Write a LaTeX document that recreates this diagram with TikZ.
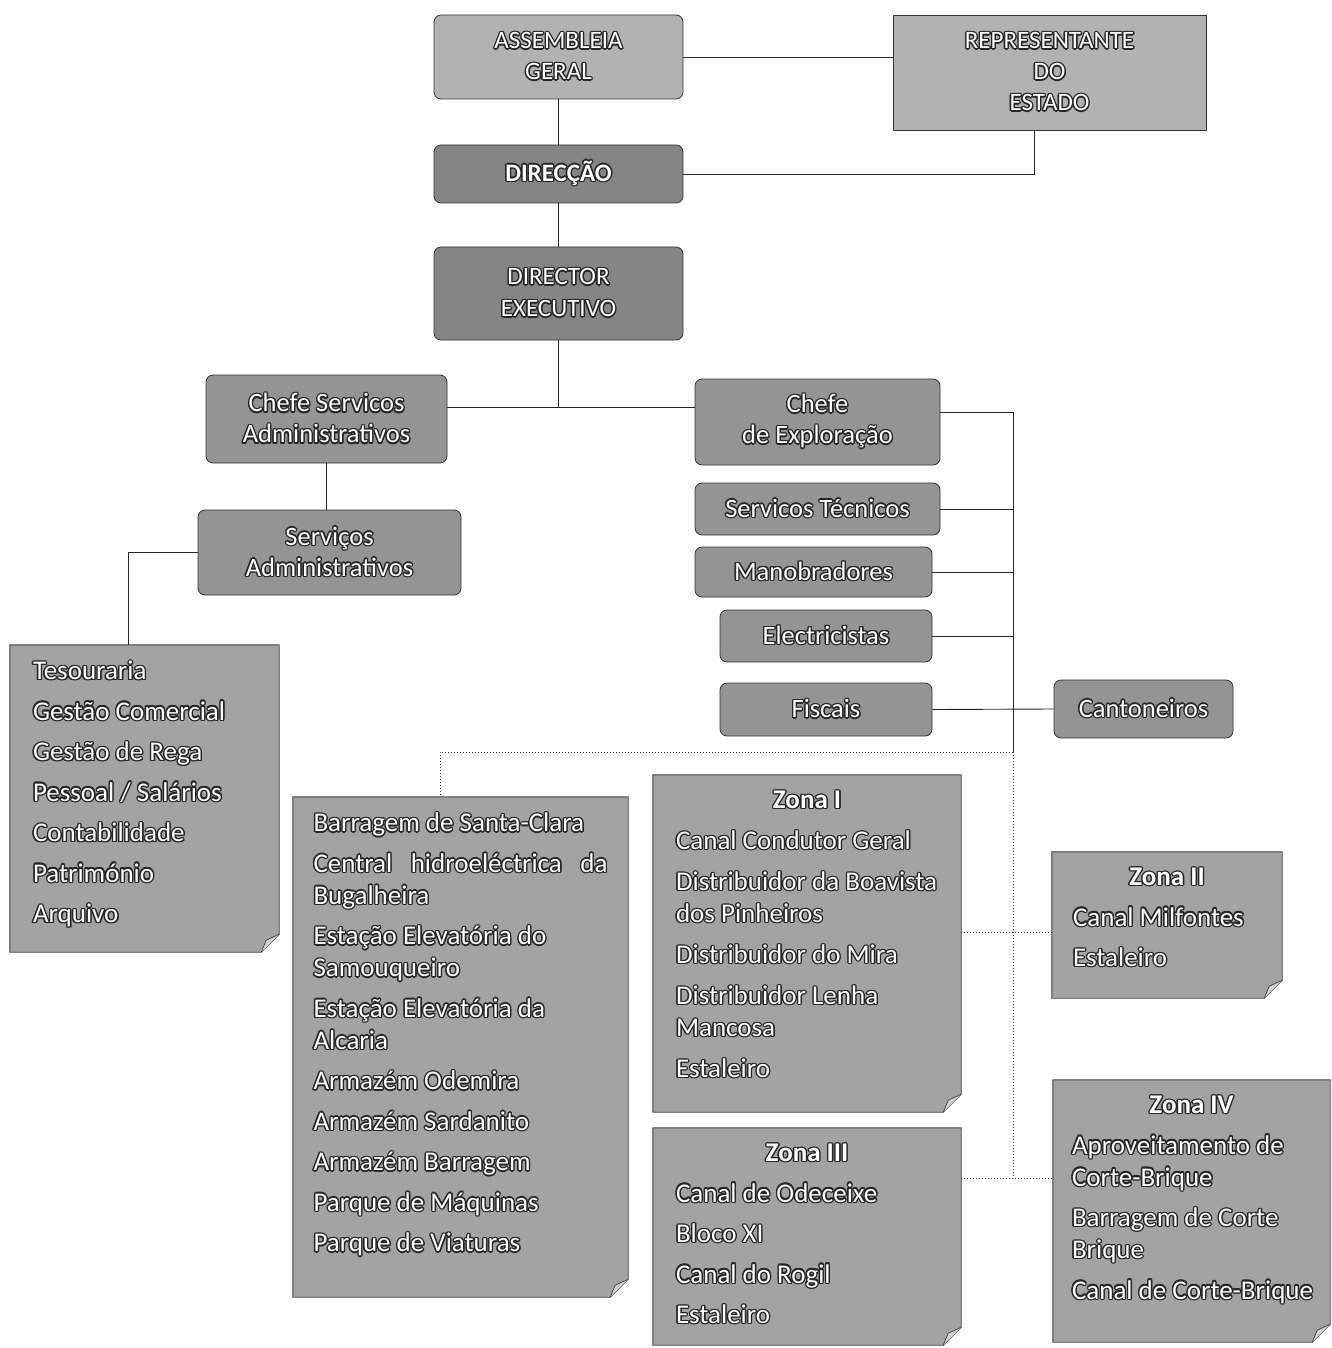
\documentclass[tikz,border=0pt]{standalone}
\usepackage{fontspec}
\setmainfont{Carlito}
\usepackage{contour}
\contourlength{1.4pt}
\contournumber{10}
\usetikzlibrary{backgrounds}
\newcommand\ct[1]{\contour{black!85}{#1}}
\newcommand\gap{\\[8.5pt]}
\begin{document}
\begin{tikzpicture}[x=1pt,y=-1pt,
  box/.style={draw=black!80, line width=0.8pt, rounded corners=7pt, fill=black!42,
    text=white, align=center, font=\fontsize{26.5}{31}\selectfont, inner sep=0pt},
  lightbox/.style={box, fill=black!30, font=\fontsize{25}{31}\selectfont},
  darkbox/.style={box, fill=black!48, font=\fontsize{25}{32}\selectfont},
  note/.style={inner sep=0pt, text=white, font=\fontsize{27}{32}\selectfont},
  conn/.style={draw=black!85, line width=0.9pt},
  dotconn/.style={draw=black!80, line width=1pt, dotted}]
\useasboundingbox (0,0) rectangle (1331,1348);

% top boxes
\node[lightbox, minimum width=249pt, minimum height=84pt] (ag) at (558.5,57) {\ct{ASSEMBLEIA}\\\ct{GERAL}};
\node[lightbox, rounded corners=0pt, minimum width=313pt, minimum height=115pt] (rep) at (1049.5,72.5) {\ct{REPRESENTANTE}\\\ct{DO}\\\ct{ESTADO}};
\node[darkbox, minimum width=249pt, minimum height=58pt] (dir) at (558.5,174) {\ct{\bfseries DIRECÇÃO}};
\node[darkbox, minimum width=249pt, minimum height=93pt] (de) at (558.5,293.5) {\ct{DIRECTOR}\\\ct{EXECUTIVO}};

% second level
\node[box, minimum width=241pt, minimum height=88pt] (csa) at (326.5,419) {\ct{Chefe Servicos}\\\ct{Administrativos}};
\node[box, minimum width=245pt, minimum height=86pt] (ce) at (817.5,422) {\ct{Chefe}\\\ct{de Exploração}};
\node[box, minimum width=263pt, minimum height=85pt] (sa) at (329.5,552.5) {\ct{Serviços}\\\ct{Administrativos}};

\node[box, minimum width=245pt, minimum height=52pt] (st) at (817.5,509) {\ct{Servicos Técnicos}};
\node[box, minimum width=237pt, minimum height=50pt] (man) at (813.5,572) {\ct{Manobradores}};
\node[box, minimum width=212pt, minimum height=52pt] (ele) at (826,636) {\ct{Electricistas}};
\node[box, minimum width=212pt, minimum height=53pt] (fis) at (826,709.5) {\ct{Fiscais}};
\node[box, minimum width=179pt, minimum height=58pt] (can) at (1143.5,709) {\ct{Cantoneiros}};

% lists
\node[note, minimum width=269pt, minimum height=307pt] (l1) at (144.5,798.5)
 {\parbox[c][307pt][t]{223pt}{\vspace*{16pt}\ct{Tesouraria}\gap
  \ct{Gestão Comercial}\gap \ct{Gestão de Rega}\gap \ct{Pessoal / Salários}\gap
  \ct{Contabilidade}\gap \ct{Património}\gap \ct{Arquivo}}};

\node[note, minimum width=335pt, minimum height=500pt] (l2) at (460.5,1047)
 {\parbox[c][500pt][t]{294pt}{\vspace*{16pt}\ct{Barragem de Santa-Clara}\gap
  \hbox to \linewidth{\ct{Central}\hfill\ct{hidroeléctrica}\hfill\ct{da}}\\
  \ct{Bugalheira}\gap
  \ct{Estação Elevatória do}\\ \ct{Samouqueiro}\gap
  \ct{Estação Elevatória da}\\ \ct{Alcaria}\gap
  \ct{Armazém Odemira}\gap \ct{Armazém Sardanito}\gap \ct{Armazém Barragem}\gap
  \ct{Parque de Máquinas}\gap \ct{Parque de Viaturas}}};

\node[note, minimum width=308pt, minimum height=337pt] (z1) at (807,943.5)
 {\parbox[c][337pt][t]{262pt}{\vspace*{16pt}\makebox[\linewidth]{\ct{\bfseries Zona I}}\\[9pt]
  \ct{Canal Condutor Geral}\\[9pt]
  \ct{Distribuidor da Boavista}\\ \ct{dos Pinheiros}\\[9pt]
  \ct{Distribuidor do Mira}\\[9pt]
  \ct{Distribuidor Lenha}\\ \ct{Mancosa}\\[9pt]
  \ct{Estaleiro}}};

\node[note, minimum width=230pt, minimum height=146pt] (z2) at (1167,925)
 {\parbox[c][146pt][t]{188pt}{\vspace*{16pt}\makebox[\linewidth]{\ct{\bfseries Zona II}}\gap
  \ct{Canal Milfontes}\gap \ct{Estaleiro}}};

\node[note, minimum width=308pt, minimum height=217pt] (z3) at (807,1236.5)
 {\parbox[c][217pt][t]{262pt}{\vspace*{16pt}\makebox[\linewidth]{\ct{\bfseries Zona III}}\gap
  \ct{Canal de Odeceixe}\gap \ct{Bloco XI}\gap \ct{Canal do Rogil}\gap \ct{Estaleiro}}};

\node[note, minimum width=277pt, minimum height=262pt] (z4) at (1191.5,1211)
 {\parbox[c][262pt][t]{239pt}{\vspace*{16pt}\makebox[\linewidth]{\ct{\bfseries Zona IV}}\gap
  \ct{Aproveitamento de}\\ \ct{Corte-Brique}\gap
  \ct{Barragem de Corte}\\ \ct{Brique}\gap
  \ct{Canal de Corte-Brique}}};

% note backgrounds
\begin{scope}[on background layer]
\foreach \n in {l1,l2,z1,z2,z3,z4}{
  \filldraw[fill=black!36, draw=black!75, line width=0.9pt]
    (\n.north west) -- (\n.north east) -- ([yshift=18pt]\n.south east)
    -- ([xshift=-18pt]\n.south east) -- (\n.south west) -- cycle;
  \filldraw[fill=black!18, draw=black!75, line width=0.7pt]
    ([xshift=-18pt]\n.south east) -- ([xshift=-13pt,yshift=12pt]\n.south east)
    -- ([yshift=18pt]\n.south east);
}
\end{scope}

% connectors
\coordinate (j1) at (558.5,407);
\coordinate (b1) at (1013,412);
\coordinate (b2) at (1013,752);
\coordinate (b3) at (1013,1178);
\coordinate (z12) at (1013,932);

\draw[conn] (ag.east) -- (ag.east -| rep.west);
\draw[conn] (ag.south) -- (dir.north);
\draw[conn] (dir.east) -| ([xshift=-15.5pt]rep.south);
\draw[conn] (dir.south) -- (de.north);
\draw[conn] (de.south) -- (j1);
\draw[conn] (csa.east |- j1) -- (ce.west |- j1);
\draw[conn] (csa.south) -- (csa.south |- sa.north);
\draw[conn] (sa.west) -| ([xshift=-16.5pt]l1.north);
\draw[conn] (ce.east |- b1) -- (b1) -- (b2);
\draw[conn] (st.east) -- (st.east -| b1);
\draw[conn] (man.east) -- (man.east -| b1);
\draw[conn] (ele.east) -- (ele.east -| b1);
\draw[conn] (fis.east) -- (can.west);

\draw[dotconn] (b2) -| ([xshift=-20.5pt]l2.north);
\draw[dotconn] (b2) -- (b3);
\draw[dotconn] (z1.east |- z12) -- (z2.west |- z12);
\draw[dotconn] (z3.east |- b3) -- (z4.west |- b3);
\end{tikzpicture}
\end{document}
